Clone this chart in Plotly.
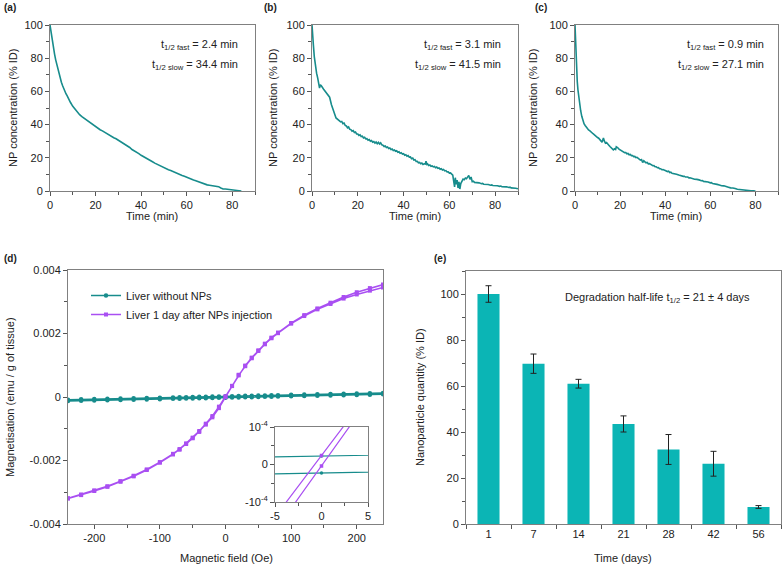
import plotly.graph_objects as go

W, H = 784, 568

# ---------------- data ----------------
# (a) blood circulation curve: (time min, % ID)
a_data = [(0,100),(0.3,97),(0.6,94),(1,90),(1.5,86),(2,82.5),(2.5,79),(3,76),(3.5,73),(4,70.5),
          (4.5,68),(5,65.5),(5.5,63.5),(6,61.5),(6.5,60),(7,58.6),(7.5,57.4),(8,55.8),(9,53.3),(10,51),
          (11,49.2),(12,47.4),(13,46),(14,44.8),(15,43.8),(16,42.6),(17,41.7),(18,40.6),(19,39.6),(20,38.6),
          (21,37.8),(22,36.9),(23,36.2),(24,35.3),(25,34.6),(26,33.7),(27,33.1),(28,32.1),(29,31.5),(30,30.6),
          (31,30.0),(32,29.0),(33,28.3),(34,27.1),(35,26.2),(36,25.0),(37,24.3),(38,23.2),(39,22.5),(40,21.5),
          (41,20.8),(42,19.9),(43,19.1),(44,18.3),(45,17.6),(46,16.8),(47,16.1),(48,15.3),(49,14.6),(50,13.7),
          (51,13.5),(52,12.8),(53,12.4),(54,11.7),(55,11.1),(56,10.5),(57,10.0),(58,9.4),(59,8.9),(60,8.2),
          (61,7.7),(62,7.2),(63,6.6),(64,6.2),(65,5.6),(66,5.1),(67,4.6),(68,4.0),(69,3.7),(70,3.5),
          (71,3.3),(72,3.1),(73,2.9),(74,2.6),(75,1.8),(76,1.2),(77,1.2),(78,1.1),(79,0.9),(80,0.9),
          (81,0.6),(82,0.4),(83,0.2),(84,0.0)]

# (b)
b_data = [(0,100),(0.3,96),(0.6,88),(1,81),(1.5,75),(2,71),(2.5,68),(3,65),(3.3,62),(3.6,64),(4,63.5),
          (5,61.5),(6,59.5),(7,58),(7.7,56.5),(8.5,52),(9,49.5),(10,46),(10.5,44),(11,43.5),(11.5,42.6),
          (12,42.5),(12.5,41.6),(13,41.9),(13.5,40.6),(14,40.9),(14.5,39.5),(15,39.2),(15.5,38.1),(16,38.6),
          (16.5,37.2),(17,37.0),(17.5,36.0),(18,36.4),(18.5,35.3),(19,35.6),(19.5,34.4),(20,34.3),(20.5,33.5),
          (21,33.9),(21.5,32.8),(22,33.0),(22.5,32.0),(23,32.4),(23.5,31.4),(24,31.5),(24.5,30.6),(25,31.0),
          (25.5,30.0),(26,30.4),(26.5,29.4),(27,29.8),(27.5,28.9),(28,29.5),(28.5,28.5),(29,29.3),(29.5,28.3),
          (30,29.0),(30.5,27.8),(31,27.6),(31.5,26.8),(32,27.1),(32.5,26.2),(33,26.5),(33.5,25.6),(34,25.9),
          (34.5,25.0),(35,25.3),(35.5,24.4),(36,24.7),(36.5,23.9),(37,24.2),(37.5,23.3),(38,23.6),(38.5,22.7),
          (39,23.0),(39.5,22.2),(40,22.5),(40.5,21.5),(41,21.8),(41.5,20.9),(42,21.3),(42.5,20.4),(43,20.5),
          (43.5,19.5),(44,19.8),(44.5,18.7),(45,18.9),(45.5,17.8),(46,17.9),(46.5,17.0),(47,17.2),(47.5,16.4),
          (48,16.8),(48.5,16.0),(49,16.4),(49.5,16.2),(49.8,18.0),(50.2,16.0),(50.5,16.3),(51,15.4),(51.5,15.7),
          (52,14.9),(52.5,15.1),(53,14.5),(53.5,14.8),(54,14.0),(54.5,14.4),(55,13.7),(55.5,13.9),(56,13.1),
          (56.5,13.4),(57,12.6),(57.5,12.9),(58,12.1),(58.5,12.3),(59,11.5),(59.5,11.6),(60,10.8),(60.5,10.9),
          (61,10.2),(61.5,9.5),(62,5.0),(62.3,2.5),(62.6,8.0),(63,4.0),(63.4,6.5),(63.8,1.8),(64.2,5.5),
          (64.6,1.2),(65,4.5),(65.5,6.5),(66,7.2),(66.5,6.8),(67,7.8),(67.5,7.4),(68,8.6),(68.5,9.4),(69,7.0),
          (69.5,8.4),(70,5.6),(70.5,5.9),(71,5.2),(72,5.1),(72.5,4.7),(73,4.9),(74,4.4),(74.5,4.6),(75,4.1),
          (76,4.2),(76.5,3.8),(77,3.9),(78,3.5),(78.5,3.7),(79,3.3),(80,3.4),(80.5,3.0),(81,3.2),(82,2.8),
          (82.5,3.0),(83,2.6),(84,2.7),(84.5,2.3),(85,2.5),(86,2.1),(86.5,2.3),(87,1.9),(88,1.9),(88.5,1.5),
          (89,1.7),(90,1.3)]

# (c)
c_data = [(0,100),(0.2,92),(0.4,80),(0.6,73),(0.8,69),(1,66),(1.3,61),(1.6,57),(2,53),(2.5,48.5),(3,45),
          (3.5,42.5),(4,40.5),(4.5,39.5),(5,38.3),(5.5,37.6),(6,36.8),(6.5,36.4),(7,35.6),(7.5,35.2),(8,34.5),
          (8.5,34.0),(9,33.2),(9.5,33.0),(10,32.2),(10.5,31.8),(11,30.6),(11.5,30.2),(12,29.4),(12.3,31.0),
          (12.6,32.0),(13,30.2),(13.5,28.8),(14,29.2),(14.5,28.0),(15,27.6),(15.5,26.8),(16,26.2),(16.5,25.0),
          (17,24.8),(17.5,25.4),(18,25.0),(18.3,26.6),(18.7,25.8),(19,26.0),(19.5,25.2),(20,24.8),(20.5,24.6),
          (21,23.8),(21.5,23.9),(22,23.1),(22.5,23.2),(23,22.4),(23.5,22.6),(24,21.8),(24.5,22.0),(25,21.3),
          (25.5,21.4),(26,20.7),(26.5,20.8),(27,20.1),(27.5,20.3),(28,19.6),(28.5,19.5),(29,18.6),(29.5,18.9),
          (30,17.2),(30.5,18.2),(31,17.8),(31.5,17.0),(32,17.2),(32.5,16.4),(33,16.5),(33.5,15.9),(34,15.9),
          (34.5,15.2),(35,15.3),(35.5,14.6),(36,14.6),(36.5,14.0),(37,14.1),(37.5,13.4),(38,13.4),(38.5,12.8),
          (39,12.9),(39.5,12.3),(40,12.3),(41,11.7),(41.5,11.9),(42,11.1),(42.5,11.3),(43,10.7),(44,10.5),
          (44.5,10.0),(45,10.1),(46,9.6),(46.5,9.3),(47,9.4),(48,8.8),(48.5,8.9),(49,8.4),(50,8.4),(50.5,7.9),
          (51,8.0),(52,7.5),(52.5,7.6),(53,7.1),(54,7.0),(54.5,6.6),(55,6.7),(56,6.2),(56.5,6.3),(57,5.8),
          (58,5.7),(58.5,5.3),(59,5.4),(60,4.9),(60.5,5.0),(61,4.5),(62,4.4),(62.5,4.0),(63,4.0),(64,3.6),
          (64.5,3.6),(65,3.2),(66,3.1),(66.5,2.7),(67,2.7),(68,2.3),(68.5,2.3),(69,1.9),(70,1.8),(70.5,1.4),
          (71,1.5),(72,1.1),(72.5,1.0),(73,0.8),(74,0.7),(75,0.5),(76,0.3),(77,0.2),(78,0.1),(79,0.05),(80,0.0)]

# (d) magnetisation loops, values in 1e-3 emu / g of tissue
field = [-240,-220,-200,-180,-160,-140,-120,-100,-80,-70,-60,-50,-40,-30,-20,-10,0,
         10,20,30,40,50,60,70,80,100,120,140,160,180,200,220,240]
ctrl_up = [-0.083,-0.074,-0.066,-0.057,-0.048,-0.039,-0.030,-0.022,-0.013,-0.008,-0.004,0.000,0.005,
           0.009,0.014,0.018,0.0225,0.027,0.031,0.036,0.040,0.045,0.049,0.053,0.058,0.067,0.075,0.084,
           0.093,0.102,0.110,0.119,0.128]
ctrl_down = [-0.128,-0.119,-0.111,-0.102,-0.093,-0.084,-0.075,-0.067,-0.058,-0.053,-0.049,-0.045,-0.040,
             -0.036,-0.031,-0.027,-0.0225,-0.018,-0.014,-0.009,-0.005,0.000,0.004,0.008,0.013,0.022,0.030,
             0.039,0.048,0.057,0.065,0.074,0.083]
np_up = [-3.19,-3.07,-2.94,-2.81,-2.65,-2.48,-2.28,-2.05,-1.79,-1.64,-1.46,-1.28,-1.07,-0.84,-0.60,-0.304,0.024,
         0.352,0.70,0.99,1.24,1.47,1.68,1.87,2.03,2.33,2.58,2.79,2.97,3.15,3.30,3.43,3.54]
np_down = [-3.20,-3.09,-2.96,-2.83,-2.67,-2.50,-2.30,-2.07,-1.81,-1.66,-1.48,-1.30,-1.10,-0.87,-0.64,-0.351,-0.004,
           0.344,0.68,0.97,1.22,1.45,1.66,1.85,2.01,2.31,2.55,2.76,2.93,3.10,3.23,3.35,3.45]

# (e) degradation
days = ["1", "7", "14", "21", "28", "42", "56"]
quantity = [100, 69.7, 61.0, 43.5, 32.4, 26.2, 7.4]
quantity_err = [3.6, 4.2, 1.9, 3.5, 6.5, 5.4, 0.6]

# ---------------- styling ----------------
FONT = "Liberation Sans, Arial, Helvetica, sans-serif"
TEAL = "#178c8c"
PURPLE = "#a94ff2"
BAR = "#0bb5b5"
AX = "#808080"
TXT = "#222222"


def px(x):
    return x / W


def py(y):
    return 1 - y / H


def dx(x0, x1):
    return [px(x0), px(x1)]


def dy(y0, y1):
    return [py(y1), py(y0)]


def axis(**kw):
    base = dict(showline=True, linecolor=AX, linewidth=1, mirror=True, ticks="outside",
                ticklen=4, tickcolor="#555555", tickwidth=1, showgrid=False, zeroline=False,
                automargin=False,
                tickfont=dict(family=FONT, size=11, color=TXT), fixedrange=True)
    base.update(kw)
    return base


fig = go.Figure()

curves = [(a_data, "x", "y"), (b_data, "x2", "y2"), (c_data, "x3", "y3")]
for data, xa, ya in curves:
    fig.add_trace(go.Scatter(x=[p[0] for p in data], y=[p[1] for p in data], mode="lines",
                             line=dict(color=TEAL, width=1.6), xaxis=xa, yaxis=ya, showlegend=False))

# (d) main
fig.add_trace(go.Scatter(x=field + field[::-1], y=ctrl_up + ctrl_down[::-1], mode="lines+markers",
                         name="Liver without NPs", line=dict(color=TEAL, width=1.5),
                         marker=dict(symbol="circle", size=4.5, color=TEAL), xaxis="x4", yaxis="y4"))
fig.add_trace(go.Scatter(x=field + field[::-1], y=np_up + np_down[::-1], mode="lines+markers",
                         name="Liver 1 day after NPs injection", line=dict(color=PURPLE, width=1.5),
                         marker=dict(symbol="square", size=4, color=PURPLE), xaxis="x4", yaxis="y4"))
# (d) inset
fig.add_trace(go.Scatter(x=field + field[::-1], y=ctrl_up + ctrl_down[::-1], mode="lines+markers",
                         line=dict(color=TEAL, width=1.2), marker=dict(size=3.5, color=TEAL),
                         xaxis="x5", yaxis="y5", showlegend=False))
fig.add_trace(go.Scatter(x=field + field[::-1], y=np_up + np_down[::-1], mode="lines+markers",
                         line=dict(color=PURPLE, width=1.2), marker=dict(symbol="square", size=3.5, color=PURPLE),
                         xaxis="x5", yaxis="y5", showlegend=False))

# (e)
fig.add_trace(go.Bar(x=days, y=quantity, width=0.49, marker=dict(color=BAR, line=dict(width=0)),
                     error_y=dict(type="data", array=quantity_err, color="#222222", thickness=1, width=3),
                     xaxis="x6", yaxis="y6", showlegend=False))

curve_x = dict(range=[0, 90], tickvals=[0, 20, 40, 60, 80],
               minor=dict(ticks="outside", ticklen=3, dtick=10, tick0=0, tickcolor="#555555"))
curve_y = dict(range=[0, 100], tickvals=[0, 20, 40, 60, 80, 100],
               minor=dict(ticks="outside", ticklen=3, dtick=10, tick0=0, tickcolor="#555555"))

fig.update_layout(
    width=W, height=H, autosize=False,
    margin=dict(l=0, r=0, t=0, b=0, pad=0, autoexpand=False),
    paper_bgcolor="white", plot_bgcolor="rgba(0,0,0,0)",
    font=dict(family=FONT, size=11, color=TXT),
    xaxis=axis(domain=dx(50, 255), anchor="y", **curve_x),
    yaxis=axis(domain=dy(25, 191), anchor="x", **curve_y),
    xaxis2=axis(domain=dx(312, 518), anchor="y2", **curve_x),
    yaxis2=axis(domain=dy(25, 191), anchor="x2", **curve_y),
    xaxis3=axis(domain=dx(575, 778), anchor="y3", **curve_x),
    yaxis3=axis(domain=dy(25, 191), anchor="x3", **curve_y),
    xaxis4=axis(domain=dx(68, 383), anchor="y4", range=[-240, 240],
                tickvals=[-200, -100, 0, 100, 200], ticktext=["-200", "-100", "0", "100", "200"],
                minor=dict(ticks="outside", ticklen=3, dtick=50, tick0=0, tickcolor="#555555")),
    yaxis4=axis(domain=dy(270, 524), anchor="x4", range=[-4, 4],
                tickvals=[-4, -2, 0, 2, 4], ticktext=["-0.004", "-0.002", "0", "0.002", "0.004"],
                minor=dict(ticks="outside", ticklen=3, dtick=1, tick0=0, tickcolor="#555555")),
    xaxis5=axis(domain=dx(275, 368), anchor="y5", range=[-5, 5],
                tickvals=[-5, 0, 5], ticktext=["-5", "0", "5"],
                minor=dict(ticks="outside", ticklen=3, dtick=2.5, tick0=0, tickcolor="#555555")),
    yaxis5=axis(domain=dy(427, 502), anchor="x5", range=[-0.1, 0.1],
                tickvals=[-0.1, 0, 0.1], ticktext=["-10<sup>-4</sup>", "0", "10<sup>-4</sup>"],
                minor=dict(ticks="outside", ticklen=3, dtick=0.05, tick0=0, tickcolor="#555555")),
    xaxis6=axis(domain=dx(466, 781), anchor="y6", type="category", tickson="boundaries", ticklen=4),
    yaxis6=axis(domain=dy(271, 524), anchor="x6", range=[0, 110],
                tickvals=[0, 20, 40, 60, 80, 100],
                minor=dict(ticks="outside", ticklen=3, dtick=10, tick0=0, tickcolor="#555555")),
    legend=dict(x=px(86), y=py(281), xanchor="left", yanchor="top", bgcolor="rgba(0,0,0,0)",
                font=dict(family=FONT, size=11, color=TXT), tracegroupgap=2),
)

# inset background so it is opaque
fig.add_shape(type="rect", xref="paper", yref="paper", x0=px(275), x1=px(368), y0=py(502), y1=py(427),
              fillcolor="white", line=dict(width=0), layer="below")

ann = []


def txt(x, y, s, size=11, xanchor="center", angle=0, bold=False):
    ann.append(dict(x=px(x), y=py(y), xref="paper", yref="paper", text=("<b>%s</b>" % s) if bold else s,
                    showarrow=False, xanchor=xanchor, yanchor="middle", textangle=angle,
                    font=dict(family=FONT, size=size, color=TXT)))


# panel labels
txt(2, 8, "(a)", 10, "left", bold=True)
txt(262, 8, "(b)", 10, "left", bold=True)
txt(533, 8, "(c)", 10, "left", bold=True)
txt(2, 258, "(d)", 10, "left", bold=True)
txt(432, 258, "(e)", 10, "left", bold=True)

# axis titles
for xc, xt in [(13, 152), (273, 415), (533, 676)]:
    txt(xc, 108, "NP concentration (% ID)", 11, angle=-90)
    txt(xt, 216, "Time (min)", 11)
txt(10, 397, "Magnetisation (emu / g of tissue)", 11, angle=-90)
txt(226, 558, "Magnetic field (Oe)", 11)
txt(420, 397, "Nanoparticle quantity (% ID)", 11, angle=-90)
txt(623, 558, "Time (days)", 11)

# half-life texts
for xr, f, s in [(240, "2.4", "34.4"), (503, "3.1", "41.5"), (766, "0.9", "27.1")]:
    txt(xr, 45, "t<sub>1/2 fast</sub> = %s min" % f, 11, "right")
    txt(xr, 65, "t<sub>1/2 slow</sub> = %s min" % s, 11, "right")
txt(563, 298, "Degradation half-life t<sub>1/2</sub> = 21 ± 4 days", 11, "left")

fig.update_layout(annotations=ann)
fig.write_html("out.html", config={"displayModeBar": False},
               post_script="document.body.style.margin='0px';document.body.style.overflow='hidden';")
